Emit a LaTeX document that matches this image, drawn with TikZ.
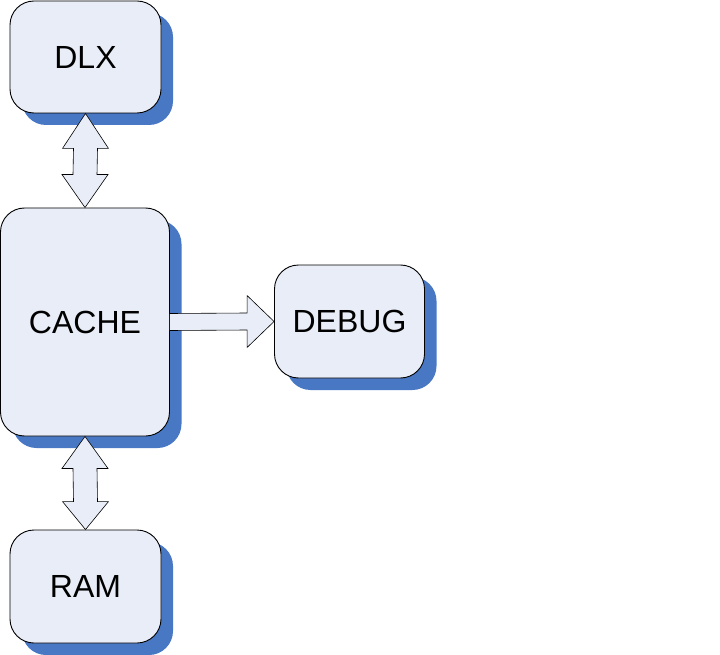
\documentclass[tikz,border=0pt]{standalone}
\usepackage{fontspec}
\setmainfont{Liberation Sans}
\usetikzlibrary{shadows,calc}
\definecolor{boxfill}{RGB}{232,237,247}
\definecolor{shadowblue}{RGB}{72,119,196}
\begin{document}
\begin{tikzpicture}[x=1pt,y=-1pt,
  blk/.style={draw=black, line width=0.9pt, fill=boxfill, rounded corners=24pt,
    inner sep=0pt, font=\fontsize{32}{38}\selectfont,
    general shadow={fill=shadowblue, shadow xshift=12pt, shadow yshift=-12pt}},
  barrow/.style={draw=black, line width=0.6pt, fill=boxfill, line join=miter}]
\useasboundingbox (0,0) rectangle (720,655);
\node[blk, minimum width=151pt, minimum height=112pt] (dlx) at (85.5,57) {DLX};
\node[blk, minimum width=169pt, minimum height=228pt] (cache) at (85,322) {CACHE};
\node[blk, minimum width=150pt, minimum height=113pt] (debug) at (349.5,321.5) {DEBUG};
\node[blk, minimum width=151pt, minimum height=113pt] (ram) at (85.5,586.5) {RAM};
% double arrow DLX <-> CACHE
\draw[barrow] (dlx.south) -- ($(dlx.south)+(23,35)$) -- ($(dlx.south)+(12,35)$)
  -- ($(cache.north)+(12,-33)$) -- ($(cache.north)+(23,-33)$) -- (cache.north)
  -- ($(cache.north)+(-23,-33)$) -- ($(cache.north)+(-12,-33)$)
  -- ($(dlx.south)+(-12,35)$) -- ($(dlx.south)+(-23,35)$) -- cycle;
% double arrow CACHE <-> RAM
\draw[barrow] (cache.south) -- ($(cache.south)+(23,32)$) -- ($(cache.south)+(12,32)$)
  -- ($(ram.north)+(12,-28)$) -- ($(ram.north)+(23,-28)$) -- (ram.north)
  -- ($(ram.north)+(-23,-28)$) -- ($(ram.north)+(-12,-28)$)
  -- ($(cache.south)+(-12,32)$) -- ($(cache.south)+(-23,32)$) -- cycle;
% arrow CACHE -> DEBUG
\draw[barrow] ($(cache.east)+(0,-8.5)$) -- ($(debug.west)+(-27,-8.5)$) -- ($(debug.west)+(-27,-26)$)
  -- (debug.west) -- ($(debug.west)+(-27,26)$) -- ($(debug.west)+(-27,8.5)$)
  -- ($(cache.east)+(0,8.5)$);
\end{tikzpicture}
\end{document}
